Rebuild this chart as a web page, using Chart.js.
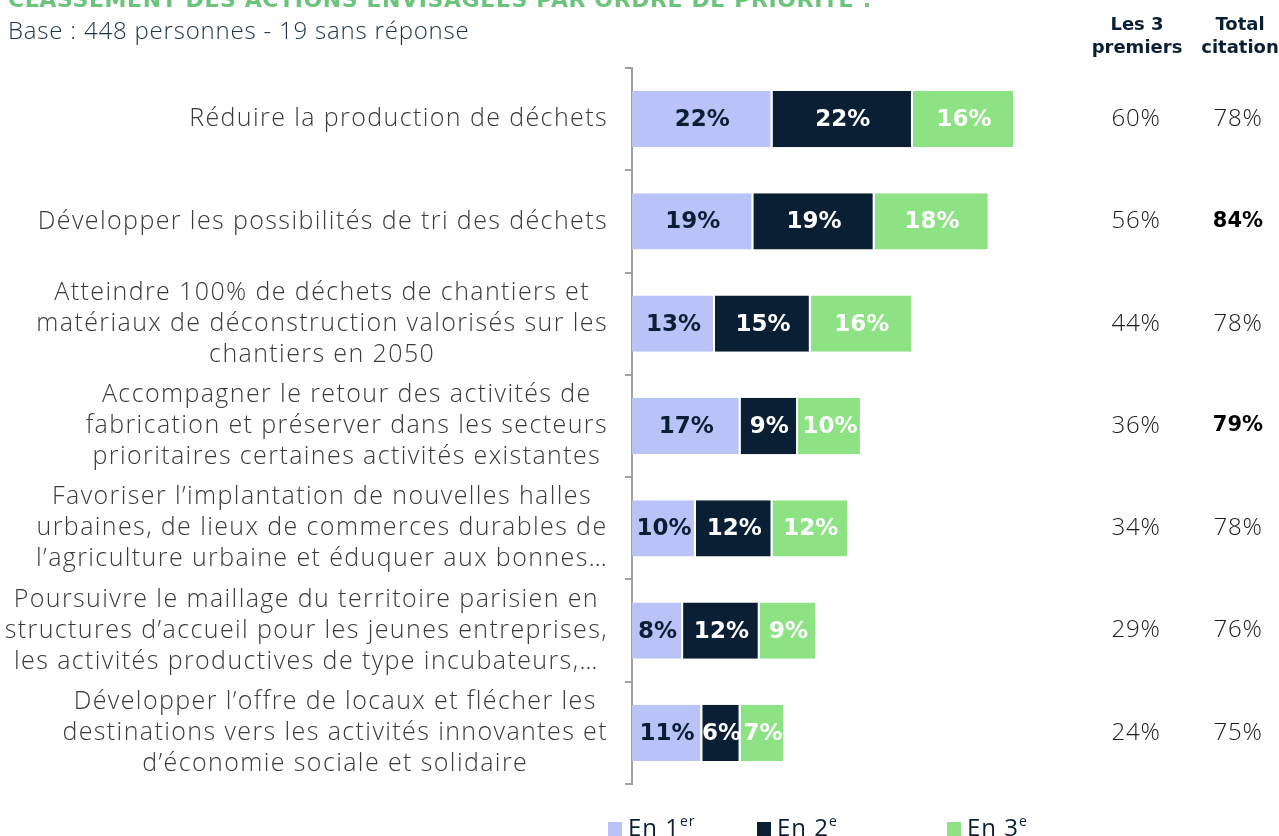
<!DOCTYPE html>
<html lang="fr">
<head>
<meta charset="utf-8">
<title>Classement des actions envisagées</title>
<script src="https://cdn.jsdelivr.net/npm/chart.js@4.4.1/dist/chart.umd.min.js"></script>
<style>
  html, body { margin: 0; padding: 0; background: #fff; }
  #wrap { position: relative; width: 1279px; height: 836px; overflow: hidden; }
</style>
</head>
<body>
<div id="wrap"><canvas id="chart"></canvas></div>
<script>
// libellés des actions (une ligne par élément)
const actions = [
    ['Réduire la production de déchets'],
    ['Développer les possibilités de tri des déchets'],
    ['Atteindre 100% de déchets de chantiers et', 'matériaux de déconstruction valorisés sur les', 'chantiers en 2050'],
    ['Accompagner le retour des activités de', 'fabrication et préserver dans les secteurs', 'prioritaires certaines activités existantes'],
    ['Favoriser l’implantation de nouvelles halles', 'urbaines, de lieux de commerces durables de', 'l’agriculture urbaine et éduquer aux bonnes…'],
    ['Poursuivre le maillage du territoire parisien en', 'structures d’accueil pour les jeunes entreprises,', 'les activités productives de type incubateurs,…'],
    ['Développer l’offre de locaux et flécher les', 'destinations vers les activités innovantes et', 'd’économie sociale et solidaire']
];

const rang1 = [22, 19, 13, 17, 10, 8, 11];
const rang2 = [22, 19, 15, 9, 12, 12, 6];
const rang3 = [16, 18, 16, 10, 12, 9, 7];

const lesTroisPremiers = [60, 56, 44, 36, 34, 29, 24];
const totalCitation = [78, 84, 78, 79, 78, 76, 75];

const legendItems = [
    { base: 'En 1', sup: 'er' },
    { base: 'En 2', sup: 'e' },
    { base: 'En 3', sup: 'e' }
];

const COL_1 = '#BAC3F8';
const COL_2 = '#0A1F33';
const COL_3 = '#8DE284';
const LIGHT = '300 25px "Open Sans", sans-serif';

// en-tête, libellés à gauche, colonnes de droite et légende
const decorPlugin = {
    id: 'decor',
    afterDraw(chart) {
        const ctx = chart.ctx;
        const y = chart.scales.y;
        ctx.save();

        // titre (coupé en haut)
        ctx.fillStyle = '#6CC47C';
        ctx.font = 'bold 22px "DejaVu Sans", sans-serif';
        ctx.letterSpacing = '0.6px';
        ctx.textAlign = 'left';
        ctx.textBaseline = 'alphabetic';
        ctx.fillText('CLASSEMENT DES ACTIONS ENVISAGÉES PAR ORDRE DE PRIORITÉ :', 8, 7);

        ctx.fillStyle = '#1E3347';
        ctx.font = '300 24px "Open Sans", sans-serif';
        ctx.letterSpacing = '0.8px';
        ctx.textBaseline = 'middle';
        ctx.fillText('Base : 448 personnes - 19 sans réponse', 8, 32);

        // libellés des catégories : bloc aligné à droite, lignes centrées
        ctx.font = LIGHT;
        ctx.fillStyle = '#3A3A3A';
        ctx.letterSpacing = '1.4px';
        ctx.textAlign = 'center';
        actions.forEach((lines, i) => {
            const cy = y.getPixelForValue(i);
            const w = Math.max(...lines.map(l => ctx.measureText(l).width));
            const cx = 608 - w / 2;
            const lh = 31;
            lines.forEach((l, k) => {
                ctx.fillText(l, cx, cy + (k - (lines.length - 1) / 2) * lh);
            });
        });

        // colonnes de droite
        ctx.letterSpacing = '0px';
        ctx.fillStyle = '#0A1F33';
        ctx.font = 'bold 18px "DejaVu Sans", sans-serif';
        ctx.fillText('Les 3', 1137, 25);
        ctx.fillText('premiers', 1137, 48);
        ctx.fillText('Total', 1240, 25);
        ctx.fillText('citation', 1240, 48);

        lesTroisPremiers.forEach((v, i) => {
            const cy = y.getPixelForValue(i);
            ctx.fillStyle = '#1A1A1A';
            ctx.font = '300 24px "Open Sans", sans-serif';
            ctx.letterSpacing = '0.8px';
            ctx.fillText(v + '%', 1136, cy);
            const bold = totalCitation[i] >= 79;
            ctx.fillStyle = bold ? '#000' : '#1A1A1A';
            if (bold) {
                ctx.font = 'bold 21px "DejaVu Sans", sans-serif';
                ctx.letterSpacing = '0px';
            }
            ctx.fillText(totalCitation[i] + '%', 1238, cy);
        });

        // légende
        const xs = [608, 757, 947];
        ctx.textAlign = 'left';
        ctx.textBaseline = 'alphabetic';
        ctx.letterSpacing = '1px';
        chart.data.datasets.forEach((ds, i) => {
            const x = xs[i];
            ctx.fillStyle = ds.backgroundColor;
            ctx.fillRect(x, 822, 14, 14);
            ctx.fillStyle = '#0A1F33';
            ctx.font = '24px "Open Sans", sans-serif';
            ctx.fillText(legendItems[i].base, x + 20, 836);
            const bw = ctx.measureText(legendItems[i].base).width;
            ctx.font = '14px "Open Sans", sans-serif';
            ctx.fillText(legendItems[i].sup, x + 20 + bw, 826);
        });
        ctx.restore();
    }
};

// valeurs dans les barres
const valuesPlugin = {
    id: 'values',
    afterDatasetsDraw(chart) {
        const ctx = chart.ctx;
        ctx.save();
        ctx.font = 'bold 23px "DejaVu Sans", sans-serif';
        ctx.textAlign = 'center';
        ctx.textBaseline = 'middle';
        chart.data.datasets.forEach((ds, di) => {
            const meta = chart.getDatasetMeta(di);
            meta.data.forEach((bar, i) => {
                const cx = (bar.x + bar.base) / 2;
                ctx.fillStyle = di === 0 ? COL_2 : '#fff';
                ctx.fillText(ds.data[i] + '%', cx, bar.y + 1);
            });
        });
        ctx.restore();
    }
};

const ctx = document.getElementById('chart').getContext('2d');
new Chart(ctx, {
    type: 'bar',
    data: {
        labels: actions.map(a => a.join(' ')),
        datasets: [
            { label: 'En 1er', data: rang1, backgroundColor: COL_1 },
            { label: 'En 2e', data: rang2, backgroundColor: COL_2 },
            { label: 'En 3e', data: rang3, backgroundColor: COL_3 }
        ].map(d => Object.assign(d, {
            borderColor: '#fff',
            borderWidth: { top: 0, bottom: 0, left: 0, right: 2 },
            borderSkipped: false,
            barPercentage: 0.55,
            categoryPercentage: 1
        }))
    },
    options: {
        indexAxis: 'y',
        responsive: true,
        maintainAspectRatio: false,
        animation: false,
        layout: { padding: { left: 0, right: 200, top: 68, bottom: 52 } },
        plugins: {
            legend: { display: false },
            title: { display: false },
            tooltip: { enabled: false }
        },
        scales: {
            x: {
                stacked: true,
                display: false,
                min: 0,
                max: 70
            },
            y: {
                stacked: true,
                offset: true,
                ticks: { display: false },
                grid: {
                    offset: true,
                    drawOnChartArea: false,
                    drawTicks: true,
                    tickLength: 7,
                    color: '#A0A0A0',
                    lineWidth: 2
                },
                border: { display: true, color: '#A0A0A0', width: 2 },
                afterFit(scale) { scale.width = 632; }
            }
        }
    },
    plugins: [valuesPlugin, decorPlugin]
});
</script>
</body>
</html>
